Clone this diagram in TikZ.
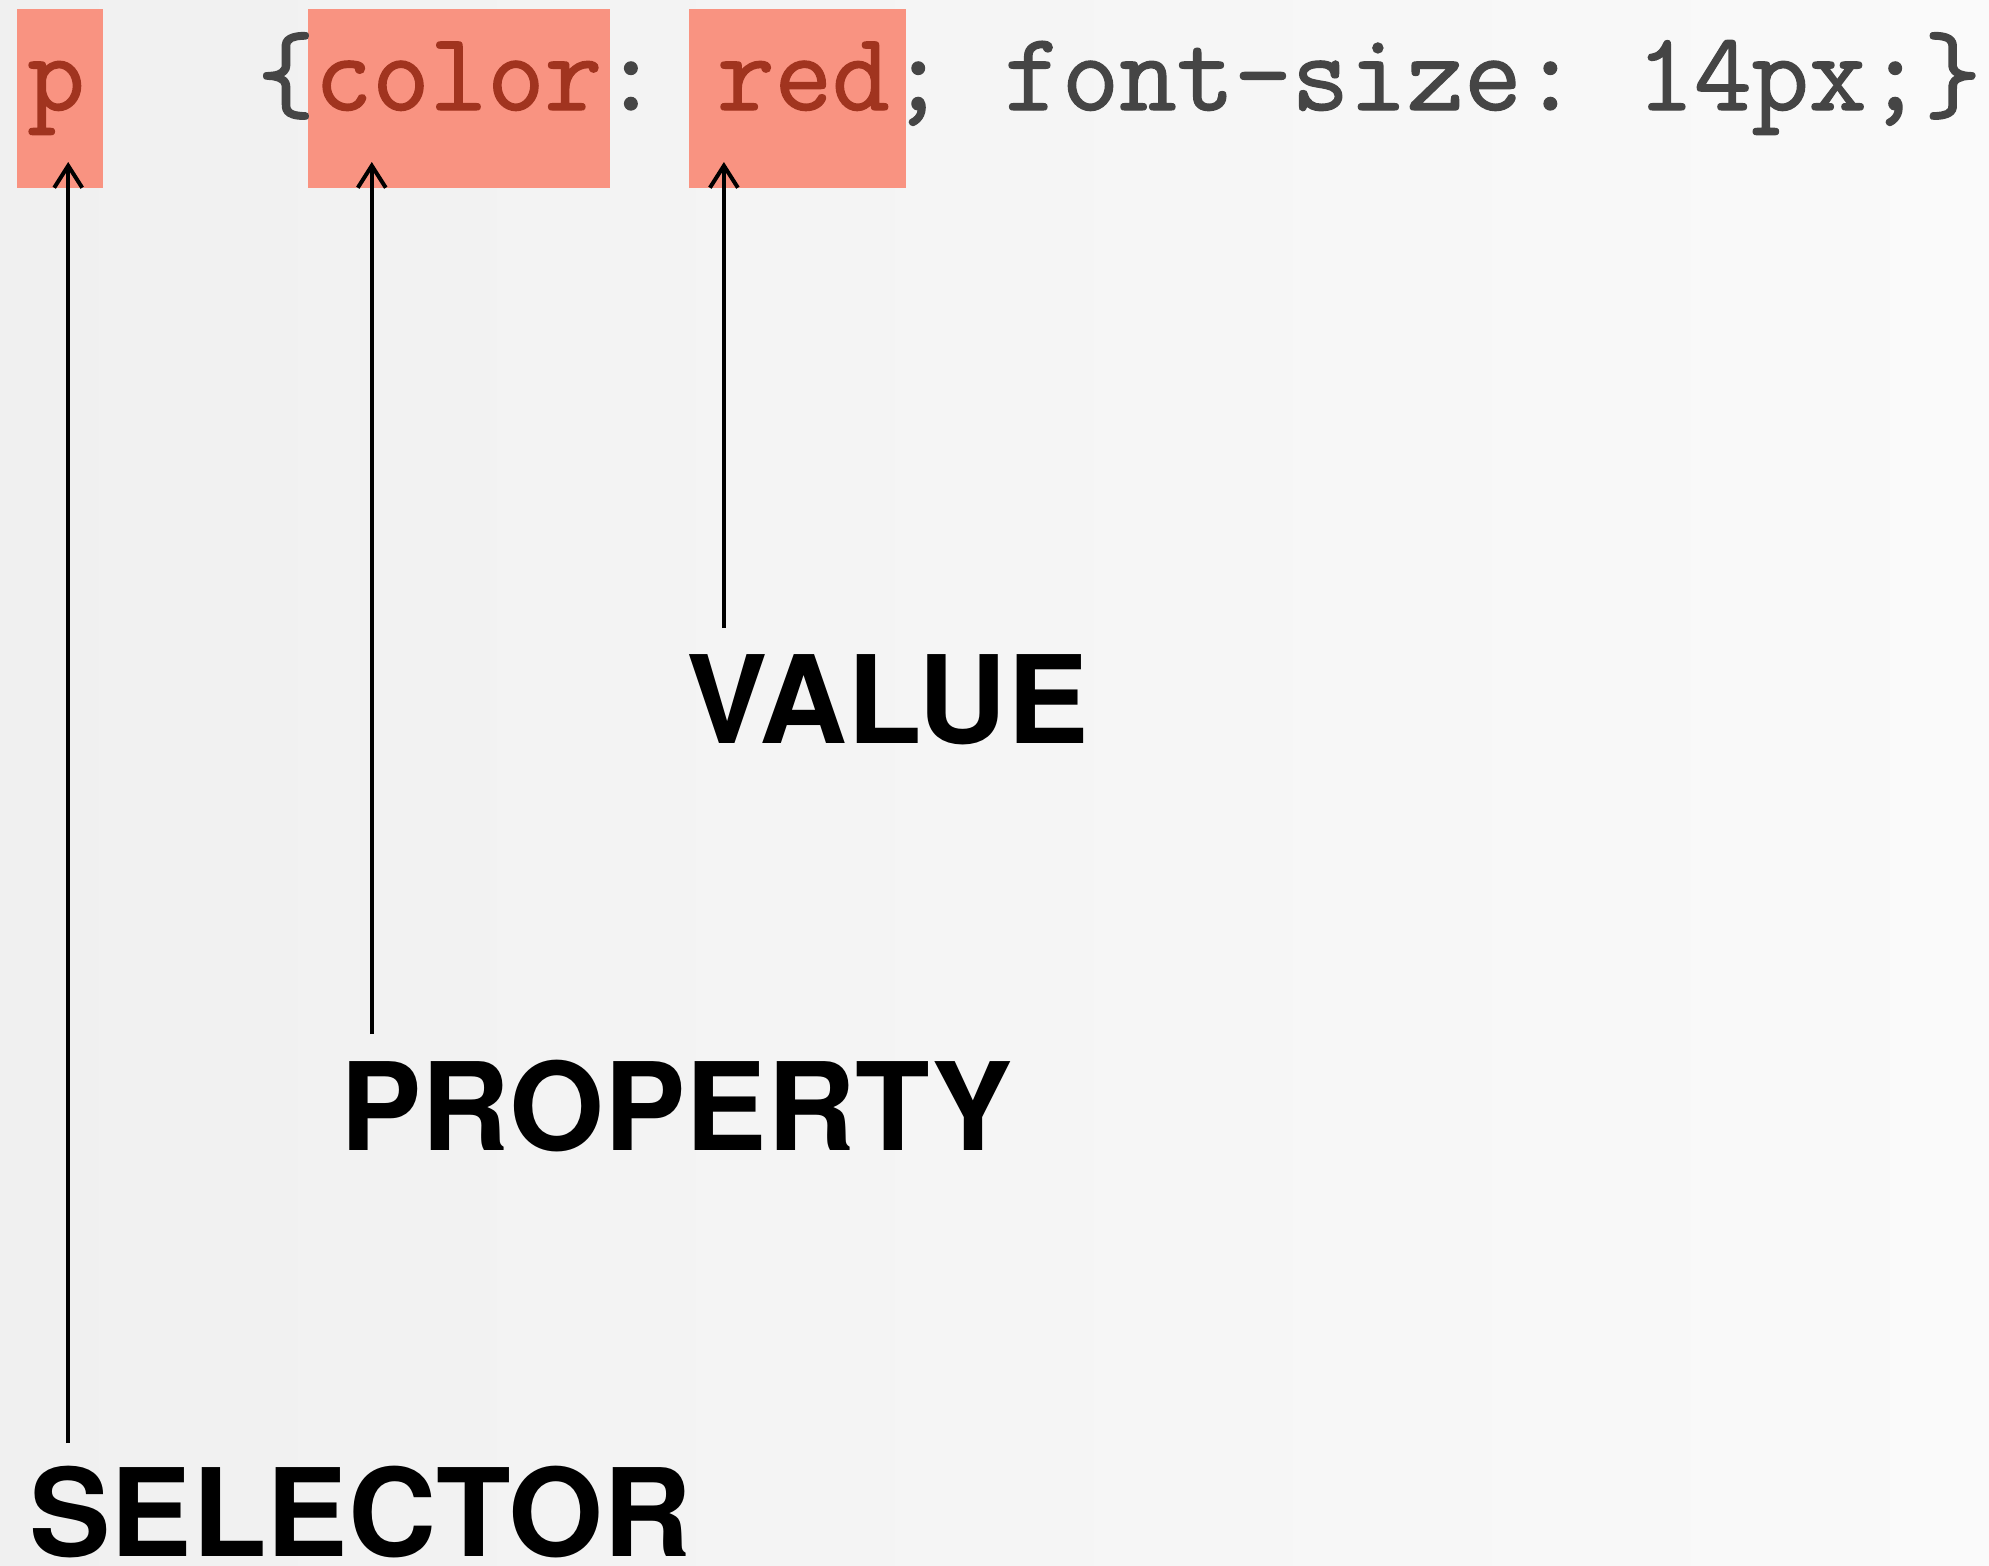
\documentclass[tikz,border=0pt]{standalone}
\usepackage{fontspec}
\newfontfamily\codefont{Latin Modern Mono}[FakeBold=1.2]
\newfontfamily\labelfont{TeX Gyre Heros}
\usetikzlibrary{arrows.meta,fit}
\definecolor{hlfill}{HTML}{F99381}
\definecolor{hltext}{HTML}{A1341F}
\definecolor{codegray}{HTML}{454545}
\definecolor{bgl}{HTML}{F0F0F0}
\definecolor{bgr}{HTML}{FAFAFA}
\tikzset{
  hlbox/.style={fill=hlfill, draw=none, inner sep=0pt, rectangle},
  code/.style={inner sep=0pt, anchor=base west, text=codegray, font=\codefont\fontsize{55.8pt}{60pt}\selectfont},
  biglabel/.style={inner sep=0pt, anchor=base west, text=black, font=\labelfont\bfseries\fontsize{61pt}{66pt}\selectfont},
  pointer/.style={line width=2pt, black, -{Straight Barb[length=11pt,width=14pt,line width=2pt]}}
}
\begin{document}
\begin{tikzpicture}[x=0.5pt,y=-0.5pt]
  \fill[left color=bgl, right color=bgr] (0,0) rectangle (1989,1565);
  \useasboundingbox (0,0) rectangle (1989,1565);
  % highlight boxes
  \coordinate (pA) at (17.2,9);     \coordinate (pB) at (103.3,187.7);
  \coordinate (cA) at (308,9);      \coordinate (cB) at (609.7,187.7);
  \coordinate (rA) at (688.8,9);    \coordinate (rB) at (906,187.7);
  \node[hlbox, fit=(pA)(pB)] (pbox) {};
  \node[hlbox, fit=(cA)(cB)] (colorbox) {};
  \node[hlbox, fit=(rA)(rB)] (redbox) {};
  % code line
  \node[code] (codeline) at (27,110)
    {\textcolor{hltext}{p}\ \ \ \{\textcolor{hltext}{color}:\ \textcolor{hltext}{red};\ font-size:\ 14px;\}};
  % labels
  \node[biglabel] (value) at (686,743) {VALUE};
  \node[biglabel] (property) at (340,1150.5) {PROPERTY};
  \node[biglabel] (selector) at (29,1556) {SELECTOR};
  % arrows
  \coordinate (selstart) at (68.2,1443);   \coordinate (seltip) at (68.2,162);
  \coordinate (propstart) at (371.8,1034); \coordinate (proptip) at (371.8,162);
  \coordinate (valstart) at (723.9,628);   \coordinate (valtip) at (723.9,162);
  \draw[pointer] (selstart) -- (seltip);
  \draw[pointer] (propstart) -- (proptip);
  \draw[pointer] (valstart) -- (valtip);
\end{tikzpicture}
\end{document}
